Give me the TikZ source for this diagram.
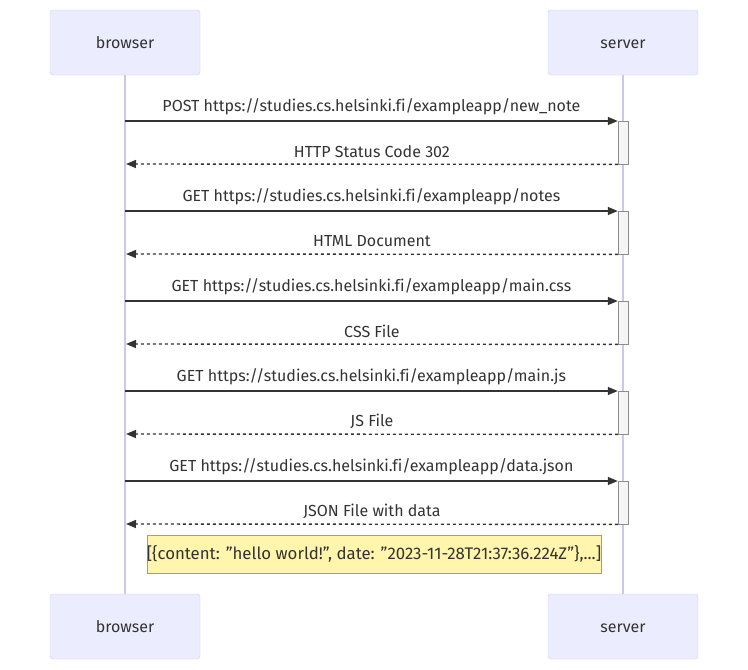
\documentclass[tikz,border=0pt]{standalone}
\usepackage{fontspec}
\setmainfont[Ligatures={NoCommon}]{Fira Sans}
\usetikzlibrary{arrows.meta}
\definecolor{actfill}{HTML}{ECECFF}
\definecolor{actdraw}{HTML}{CCCCFF}
\definecolor{lifecol}{RGB}{205,200,235}
\definecolor{txt}{HTML}{333333}
\definecolor{notefill}{HTML}{FFF5AD}
\definecolor{notedraw}{HTML}{AAAA33}
\newcommand{\dq}{\symbol{34}}

\begin{document}
\begin{tikzpicture}[x=1pt,y=-1pt,
  every node/.style={text=txt, font=\fontsize{16}{19}\selectfont},
  actor/.style={draw=actdraw, fill=actfill, rounded corners=3pt, minimum width=150pt, minimum height=65pt, text height=12pt, text depth=0pt},
  lifeline/.style={draw=lifecol, line width=1.3pt},
  actbox/.style={draw=black!45, fill=black!4, minimum width=10pt, minimum height=43pt, inner sep=0pt},
  msg/.style={draw=txt, line width=1.4pt, -{Triangle[length=10pt,width=8pt]}},
  ret/.style={msg, dash pattern=on 3pt off 3pt},
  note/.style={draw=notedraw, fill=notefill, minimum width=448pt, minimum height=38pt, inner sep=0pt, font=\fontsize{16.8}{20}\selectfont}]
\useasboundingbox (0,0) rectangle (748,670);
% actors
\node[actor] (btop) at (125,42.5) {browser};
\node[actor] (stop) at (623,42.5) {server};
\node[actor] (bbot) at (125,626.5) {browser};
\node[actor] (sbot) at (623,626.5) {server};
\draw[lifeline] (btop) -- (bbot);
\draw[lifeline] (stop) -- (sbot);
% requests and replies
\foreach \i/\req/\res [evaluate=\i as \yq using 121+90*\i] in {%
  0/{POST https://studies.cs.helsinki.fi/exampleapp/new\_note}/{HTTP Status Code 302},
  1/{GET https://studies.cs.helsinki.fi/exampleapp/notes}/{HTML Document},
  2/{GET https://studies.cs.helsinki.fi/exampleapp/main.css}/{CSS File},
  3/{GET https://studies.cs.helsinki.fi/exampleapp/main.js}/{JS File},
  4/{GET https://studies.cs.helsinki.fi/exampleapp/data.json}/{JSON File with data}} {
\node[actbox, anchor=north] (act\i) at (623,\yq) {};
\coordinate (rq\i) at (125,\yq);
\coordinate (rs\i) at (126,\yq+43);
\draw[msg] (rq\i) -- (act\i.north west) node[midway, yshift=14pt] {\req};
\draw[ret] (act\i.south west) -- (rs\i) node[midway, yshift=13pt] {\res};
}
\node[note] (data) at (374,554) {[\{content: \dq hello world!\dq, date: \dq 2023-11-28T21:37:36.224Z\dq\},...]};
\end{tikzpicture}
\end{document}
